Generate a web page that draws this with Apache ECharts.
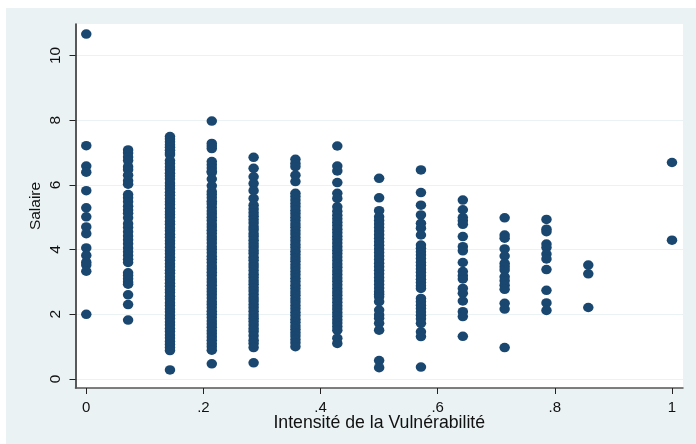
<!DOCTYPE html>
<html>
<head>
<meta charset="utf-8">
<style>
html, body { margin: 0; padding: 0; background: #fff; overflow: hidden; }
#main { position: absolute; left: 6px; top: 8px; width: 690px; height: 436px; }
</style>
<script src="https://cdn.jsdelivr.net/npm/echarts@6/dist/echarts.min.js"></script>
</head>
<body>
<div id="main"></div>
<script>
// intensity levels, one column of points each
var xLevels = [0, 0.0714, 0.1429, 0.2143, 0.2857, 0.3571, 0.4286, 0.5, 0.5714, 0.6429, 0.7143, 0.7857, 0.8571, 1];
var xTicks = [0, 0.2, 0.4, 0.6, 0.8, 1];
var yTicks = [0, 2, 4, 6, 8, 10];

// salaries
var col0 = [10.66, 7.21, 6.58, 6.39, 5.82, 5.29, 5.01, 4.7, 4.49, 4.05, 3.82, 3.61, 3.52, 3.33, 2];
var col1 = [7.08, 6.98, 6.86, 6.75, 6.56, 6.47, 6.3, 6.13, 6.02, 5.7, 5.6, 5.48, 5.34, 5.22, 5.12, 4.98, 4.8, 4.68, 4.55, 4.42, 4.3, 4.18, 4.05, 3.93, 3.82, 3.7, 3.6, 3.28, 3.2, 3.1, 3, 2.93, 2.6, 2.3, 1.82];
var col2 = [7.49, 7.42, 7.33, 7.24, 7.16, 7.07, 6.98, 6.93, 6.75, 6.66, 6.55, 6.47, 6.36, 6.27, 6.18, 6.06, 5.97, 5.88, 5.77, 5.68, 5.57, 5.48, 5.39, 5.28, 5.17, 5.08, 4.99, 4.87, 4.78, 4.67, 4.58, 4.47, 4.38, 4.27, 4.18, 4.07, 3.96, 3.87, 3.76, 3.67, 3.56, 3.47, 3.36, 3.27, 3.16, 3.07, 2.96, 2.87, 2.76, 2.67, 2.56, 2.47, 2.36, 2.27, 2.16, 2.07, 1.96, 1.87, 1.76, 1.67, 1.56, 1.47, 1.36, 1.27, 1.16, 1.07, 0.97, 0.88, 0.28];
var col3 = [7.97, 7.28, 7.2, 7.12, 6.72, 6.62, 6.52, 6.42, 6.38, 6.18, 5.97, 5.79, 5.7, 5.6, 5.49, 5.41, 5.3, 5.19, 5.1, 5, 4.9, 4.79, 4.7, 4.6, 4.5, 4.39, 4.3, 4.2, 4.09, 4, 3.9, 3.79, 3.7, 3.6, 3.49, 3.4, 3.3, 3.2, 3.09, 3, 2.9, 2.79, 2.7, 2.6, 2.5, 2.39, 2.3, 2.2, 2.09, 2, 1.9, 1.79, 1.7, 1.6, 1.49, 1.4, 1.3, 1.2, 1.09, 1, 0.89, 0.47];
var col4 = [6.85, 6.51, 6.25, 6.04, 5.82, 5.58, 5.37, 5.25, 5.14, 5.03, 4.92, 4.82, 4.7, 4.61, 4.49, 4.4, 4.29, 4.18, 4.08, 3.97, 3.88, 3.76, 3.67, 3.55, 3.46, 3.35, 3.24, 3.14, 3.03, 2.93, 2.82, 2.72, 2.61, 2.5, 2.41, 2.3, 2.2, 2.09, 1.98, 1.88, 1.78, 1.67, 1.56, 1.47, 1.34, 1.2, 1.1, 0.97, 0.5];
var col5 = [6.79, 6.66, 6.56, 6.3, 6.1, 5.74, 5.64, 5.53, 5.42, 5.32, 5.21, 5.11, 5, 4.9, 4.79, 4.69, 4.58, 4.48, 4.37, 4.27, 4.16, 4.06, 3.95, 3.85, 3.74, 3.64, 3.53, 3.43, 3.32, 3.22, 3.11, 3.01, 2.9, 2.8, 2.69, 2.59, 2.48, 2.38, 2.27, 2.17, 2.06, 1.96, 1.85, 1.75, 1.64, 1.54, 1.43, 1.33, 1.22, 1.12, 1];
var col6 = [7.2, 6.58, 6.43, 6.07, 5.74, 5.58, 5.32, 5.18, 5.06, 4.95, 4.84, 4.74, 4.63, 4.52, 4.41, 4.31, 4.2, 4.09, 3.98, 3.88, 3.77, 3.66, 3.55, 3.45, 3.34, 3.23, 3.12, 3.02, 2.91, 2.8, 2.69, 2.59, 2.48, 2.37, 2.26, 2.16, 2.05, 1.94, 1.83, 1.73, 1.62, 1.51, 1.26, 1.1];
var col7 = [6.2, 5.6, 5.2, 5.01, 4.9, 4.79, 4.68, 4.57, 4.46, 4.35, 4.24, 4.13, 4.02, 3.91, 3.8, 3.69, 3.58, 3.47, 3.36, 3.25, 3.14, 3.03, 2.92, 2.81, 2.7, 2.62, 2.54, 2.39, 2.13, 1.98, 1.88, 1.72, 1.51, 0.57, 0.35];
var col8 = [6.46, 5.76, 5.37, 5.07, 4.81, 4.66, 4.45, 4.14, 4.04, 3.93, 3.83, 3.72, 3.61, 3.51, 3.4, 3.3, 3.19, 3.08, 2.98, 2.88, 2.8, 2.49, 2.39, 2.28, 2.18, 2.07, 1.97, 1.86, 1.72, 1.46, 1.31, 0.37];
var col9 = [5.53, 5.23, 4.99, 4.89, 4.78, 4.4, 4.09, 3.96, 3.6, 3.32, 3.19, 3.09, 2.8, 2.65, 2.41, 2.08, 1.93, 1.32];
var col10 = [4.98, 4.45, 4.35, 4.02, 3.8, 3.57, 3.47, 3.37, 3.16, 3.04, 2.9, 2.77, 2.34, 2.16, 0.97];
var col11 = [4.93, 4.63, 4.55, 4.17, 4.06, 3.86, 3.71, 3.38, 2.74, 2.35, 2.12];
var col12 = [3.52, 3.25, 2.21];
var col13 = [6.69, 4.29];
var columns = [col0, col1, col2, col3, col4, col5, col6, col7, col8, col9, col10, col11, col12, col13];

var points = [];
columns.forEach(function(col, i) {
	col.forEach(function(v) {
		points.push([xLevels[i], v]);
	});
});

var myChart = echarts.init(document.getElementById("main"));
var textFont = '"Liberation Sans", Arial, sans-serif';

// stata style labels: .2 rather than 0.2
function stataLabel(v) {
	return String(v).replace(/^0\./, ".");
}

var option = {
	animation: false,
	backgroundColor: "#eaf2f3",
	grid: {
		show: true,
		left: 69.5,
		right: 13,
		top: 16,
		bottom: 56,
		backgroundColor: "#fff",
		borderWidth: 0
	},
	xAxis: {
		type: "value",
		min: -0.0184,
		max: 1.0188,
		name: "Intensité de la Vulnérabilité",
		nameLocation: "middle",
		nameGap: 26,
		nameMoveOverlap: false,
		nameTextStyle: { color: "#111", fontSize: 17.7, fontFamily: textFont },
		axisLine: { show: true, onZero: false, lineStyle: { color: "#555", width: 1.5 } },
		axisTick: { show: true, length: 6, customValues: xTicks, lineStyle: { color: "#222", width: 1 } },
		axisLabel: {
			show: true,
			customValues: xTicks,
			margin: 12,
			color: "#111",
			fontSize: 15,
			fontFamily: textFont,
			formatter: stataLabel
		},
		splitLine: { show: false }
	},
	yAxis: {
		type: "value",
		min: -0.278,
		max: 10.97,
		name: "Salaire",
		nameLocation: "middle",
		nameGap: 32,
		nameMoveOverlap: false,
		nameTextStyle: { color: "#111", fontSize: 15.5, fontFamily: textFont },
		axisLine: { show: true, onZero: false, lineStyle: { color: "#222", width: 1.5 } },
		axisTick: { show: true, length: 6, customValues: yTicks, lineStyle: { color: "#222", width: 1 } },
		axisLabel: {
			show: true,
			customValues: yTicks,
			rotate: 90,
			margin: 12,
			color: "#111",
			fontSize: 15.5,
			fontFamily: textFont,
			verticalAlign: "bottom",
			align: "center"
		},
		splitLine: { show: true, lineStyle: { color: "#eaf2f3", width: 1 } }
	},
	series: [{
		type: "scatter",
		data: points,
		symbol: "circle",
		symbolSize: [10.5, 9.5],
		itemStyle: { color: "#1a476f", opacity: 1 }
	}]
};
myChart.setOption(option);
</script>
</body>
</html>
